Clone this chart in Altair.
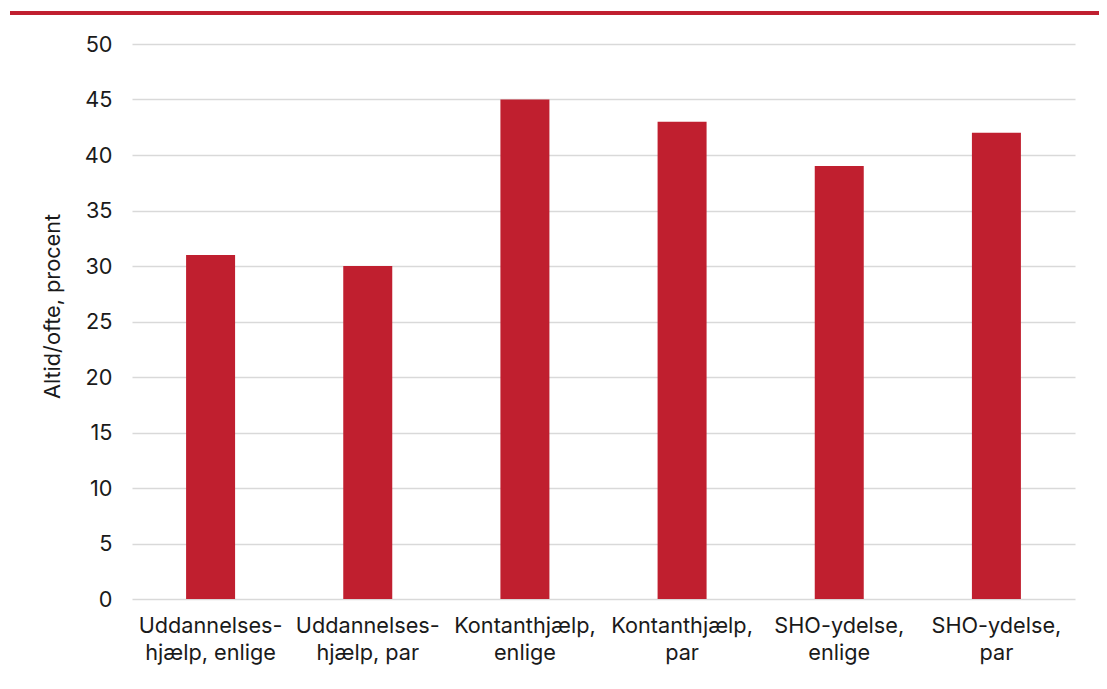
import altair as alt
import pandas as pd

categories = [
    "Uddannelses-\nhjælp, enlige",
    "Uddannelses-\nhjælp, par",
    "Kontanthjælp,\nenlige",
    "Kontanthjælp,\npar",
    "SHO-ydelse,\nenlige",
    "SHO-ydelse,\npar",
]
values = [31, 30, 45, 43, 39, 42]
y_ticks = [0, 5, 10, 15, 20, 25, 30, 35, 40, 45, 50]

RED = "#C01F2F"
FONT = "Inter"
TXT = "#1a1a1a"
FS = 21.7

df = pd.DataFrame({"cat": categories, "val": values})

bars = alt.Chart(df).mark_bar(color=RED, size=49).encode(
    x=alt.X(
        "cat:N",
        sort=categories,
        scale=alt.Scale(paddingInner=0, paddingOuter=0),
        axis=alt.Axis(
            title=None,
            labelAngle=0,
            labelExpr="split(datum.label, '\\n')",
            labelFont=FONT,
            labelFontSize=FS,
            labelColor=TXT,
            labelPadding=16,
            labelLineHeight=27,
            ticks=False,
            domain=False,
            grid=False,
        ),
    ),
    y=alt.Y(
        "val:Q",
        scale=alt.Scale(domain=[0, 50]),
        axis=alt.Axis(
            title="Altid/ofte, procent",
            values=y_ticks,
            labelFont=FONT,
            labelFontSize=FS,
            labelColor=TXT,
            labelPadding=20,
            ticks=False,
            domain=False,
            grid=True,
            gridColor="#D9D9D9",
            gridWidth=1.5,
            titleFont=FONT,
            titleFontSize=FS,
            titleFontWeight="normal",
            titleColor=TXT,
            titleAngle=-90,
            titleX=-80,
            titleY=262,
            titleAlign="center",
            titleBaseline="middle",
        ),
    ),
)

top_line = alt.Chart(df).mark_rule(color=RED, strokeWidth=3).encode(
    x=alt.value(-122), x2=alt.value(975), y=alt.value(-31)
)

chart = (
    alt.layer(bars, top_line)
    .properties(
        width=943,
        height=555,
        autosize=alt.AutoSizeParams(type="none"),
        padding={"left": 124, "top": 36, "right": 24, "bottom": 90},
        background="white",
    )
    .configure_view(strokeWidth=0, stroke="transparent")
)

chart.save("out.html", embed_options={"renderer": "svg", "actions": False})
